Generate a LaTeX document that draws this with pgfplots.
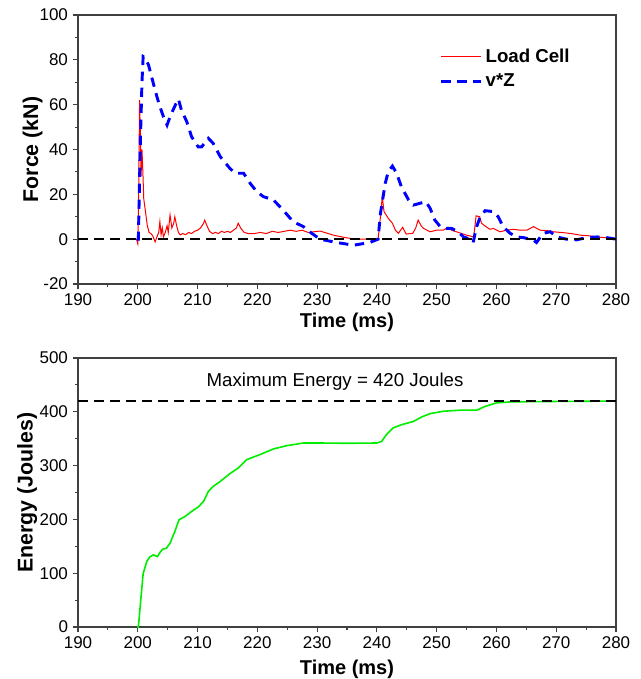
\documentclass[border=0pt]{standalone}
\usepackage{fontspec}
\setmainfont{Liberation Sans}
\usepackage{pgfplots}
\pgfplotsset{compat=1.18}
\definecolor{lcred}{rgb}{1,0,0}
\definecolor{vzblue}{rgb}{0,0,1}
\definecolor{engreen}{rgb}{0,0.93,0}
\pgfplotsset{
  common/.style={
    width=403.5pt, height=201.75pt, scale only axis,
    xmin=190, xmax=280,
    xtick={190,200,...,280},
    minor x tick num=1,
    minor y tick num=1,
    tick align=outside,
    xtick pos=bottom, ytick pos=left,
    major tick length=4pt, minor tick length=2.5pt,
    axis line style={black!75, line width=0.8pt},
    every tick/.style={black!75, line width=0.8pt},
    /pgf/number format/assume math mode=true,
    ticklabel style={font=\fontsize{12.75}{14}\selectfont},
    xlabel style={font=\bfseries\fontsize{15}{17}\selectfont},
    ylabel style={font=\bfseries\fontsize{16}{18}\selectfont},
    xlabel={Time (ms)},
    scaled ticks=false,
  }
}
\begin{document}
\begin{tikzpicture}
\useasboundingbox (0,0) rectangle (480pt,509.25pt);
% ---------------- Force ----------------
\begin{axis}[common,
  at={(58.5pt,296.25pt)}, anchor=south west,
  ymin=-20, ymax=100, ytick={-20,0,...,100},
  ylabel={Force (kN)},
  ylabel style={yshift=-9pt},
  xlabel style={yshift=2pt},
  legend style={at={(0.665,0.895)}, anchor=north west, draw=none, fill=none,
    font=\bfseries\fontsize{14}{16}\selectfont, row sep=3pt},
  legend cell align=left,
  legend image code/.code={\draw[#1] (0pt,0pt) -- (30pt,0pt);},
]
\addplot[lcred, line width=0.75pt] coordinates {
(199.8,0) (200.0,-2) (200.15,20) (200.3,62) (200.45,45) (200.55,28) (200.7,40) (200.85,30) (201.0,18) (201.3,12) (201.6,6) (201.9,3) (202.2,2.5) (202.5,1.5) (202.9,-1.2) (203.2,1) (203.5,3) (203.7,7.8) (203.9,2) (204.1,5) (204.3,1) (204.6,3) (204.9,6) (205.1,3) (205.4,10.8) (205.7,5) (206.0,7) (206.2,10) (206.5,6) (206.8,3) (207.1,1.9) (207.5,2.5) (208.0,2) (208.5,3) (209.0,2.5) (209.5,3.5) (210.0,4) (210.5,5) (211.0,7) (211.2,8.5) (211.5,6.5) (212.0,3.5) (212.5,2.5) (213.0,3) (213.5,2.5) (214.0,3.5) (214.5,3) (215.0,3.5) (215.5,3) (216.0,4) (216.5,5) (216.8,7.1) (217.2,5) (217.8,3) (218.5,2.5) (219.5,2.5) (220.5,3) (221.5,2.5) (222.5,3.5) (223.5,3) (224.5,3.5) (225.5,4) (226.5,3.5) (227.5,4) (228.5,3) (229.5,3.3) (230.5,3.6) (231.5,2.8) (232.7,1.8) (234.5,0.8) (236.1,0.1) (238,0) (240.2,0) (240.6,10) (240.9,18.9) (241.2,12.3) (241.9,9.3) (242.6,7.1) (243.1,4) (243.6,2.6) (244.3,5.3) (244.9,2.3) (246.0,2.6) (246.5,5) (246.9,8.5) (247.4,6) (247.8,4.8) (248.9,3.3) (250,4) (251.1,4) (251.9,5.3) (252.5,4) (253.3,3.3) (254.2,2.5) (255,1.8) (256.2,1.0) (256.6,10.4) (257.2,10) (257.5,7.1) (258.4,5.3) (258.9,4.4) (259.5,4.8) (260.6,3.3) (261.7,4.0) (262.8,4.4) (264,4) (265.1,4.0) (266.2,5.6) (267.3,4.0) (268.5,3.8) (269.5,3.3) (271.2,2.9) (272.5,2.5) (274.0,1.8) (275.5,1.5) (276.8,1.0) (278.5,0.6) (280,0.3)
};
\addlegendentry{Load Cell}
\addplot[vzblue, line width=2.2pt, dash pattern=on 7pt off 5pt] coordinates {
(199.8,0) (200.1,0) (200.4,40) (200.7,70) (200.9,81.5) (201.2,81) (201.8,77.7) (202.6,69.5) (203.2,63.6) (203.7,59.1) (204.3,54.6) (204.9,50.9) (205.4,54.6) (205.9,57.6) (206.4,60.5) (206.8,62.5) (207.3,57.6) (208.2,52.4) (209.0,45.7) (210.1,41.2) (210.7,41.2) (211.8,45.0) (212.6,42.8) (213.8,36.8) (215.4,31.6) (216.3,29.4) (217.7,29.4) (218.8,24.9) (219.9,21.2) (221.0,19.0) (222.7,17.5) (224.3,13.0) (226.0,7.8) (227.7,5.6) (229.1,2.6) (230.5,0) (233.3,-1.5) (236.1,-2.7) (238.8,-1.5) (240.2,0) (240.6,11.5) (241.4,24.9) (241.9,30.1) (242.6,32.6) (243.3,29.4) (244.1,23.4) (245.3,17.5) (246.1,15.2) (247.2,16.0) (248.2,16.7) (248.9,13.8) (249.7,8.5) (250.6,5.6) (251.7,4.8) (252.5,4.8) (253.6,3.3) (254.5,1.0) (255.6,0) (256.1,-1.5) (256.7,5.6) (257.2,9.3) (258.1,12.7) (259.5,12.3) (260.3,10.0) (261.1,5.6) (262.3,2.6) (263.4,1.0) (264.5,0.7) (266.2,-0.4) (266.7,-1.5) (267.8,2.6) (269.0,3.3) (270.1,1.0) (271.7,0) (273.4,-0.3) (275.1,0.7) (276.8,1.0) (278.4,0.7) (280,0)
};
\addlegendentry{v*Z}
\addplot[black, line width=1.5pt, dash pattern=on 7.5pt off 4.5pt, forget plot] coordinates {(190,0) (280,0)};
\end{axis}
% ---------------- Energy ----------------
\begin{axis}[common,
  at={(58.5pt,39pt)}, anchor=south west,
  ymin=0, ymax=500, ytick={0,100,...,500},
  ylabel={Energy (Joules)},
  ylabel style={yshift=-5pt},
  xlabel style={yshift=-1pt},
]
\addplot[engreen, line width=1.2pt] coordinates {
(199.9,0) (200.1,0) (200.5,50) (200.9,99.4) (201.5,121.6) (202.0,130) (202.6,134) (203.3,131) (203.8,140) (204.2,144.7) (204.8,146.5) (205.4,155.8) (206.2,177.5) (206.9,199.3) (207.9,205.4) (209.0,214.7) (210.1,222.9) (211.0,233.3) (211.8,252) (212.6,261.3) (213.8,270.6) (215.4,285) (216.8,295.5) (218.2,311) (220.4,320.3) (222.7,331) (224.9,337) (227.7,342) (230.5,342) (235,341.5) (240,342) (240.8,345) (241.6,357.5) (242.7,370) (244.1,376) (246.1,382) (247.5,390.5) (248.9,396.6) (251.1,401) (253.9,403) (256.7,403) (258.1,410) (260,416.5) (262.3,418.4) (266.7,419) (280,420)
};
\addplot[black, line width=1.5pt, dash pattern=on 7.5pt off 4.5pt] coordinates {(190,420) (280,420)};
\node[font=\fontsize{14}{16}\selectfont] at (axis cs:233,456) {Maximum Energy = 420 Joules};
\end{axis}
\end{tikzpicture}
\end{document}
